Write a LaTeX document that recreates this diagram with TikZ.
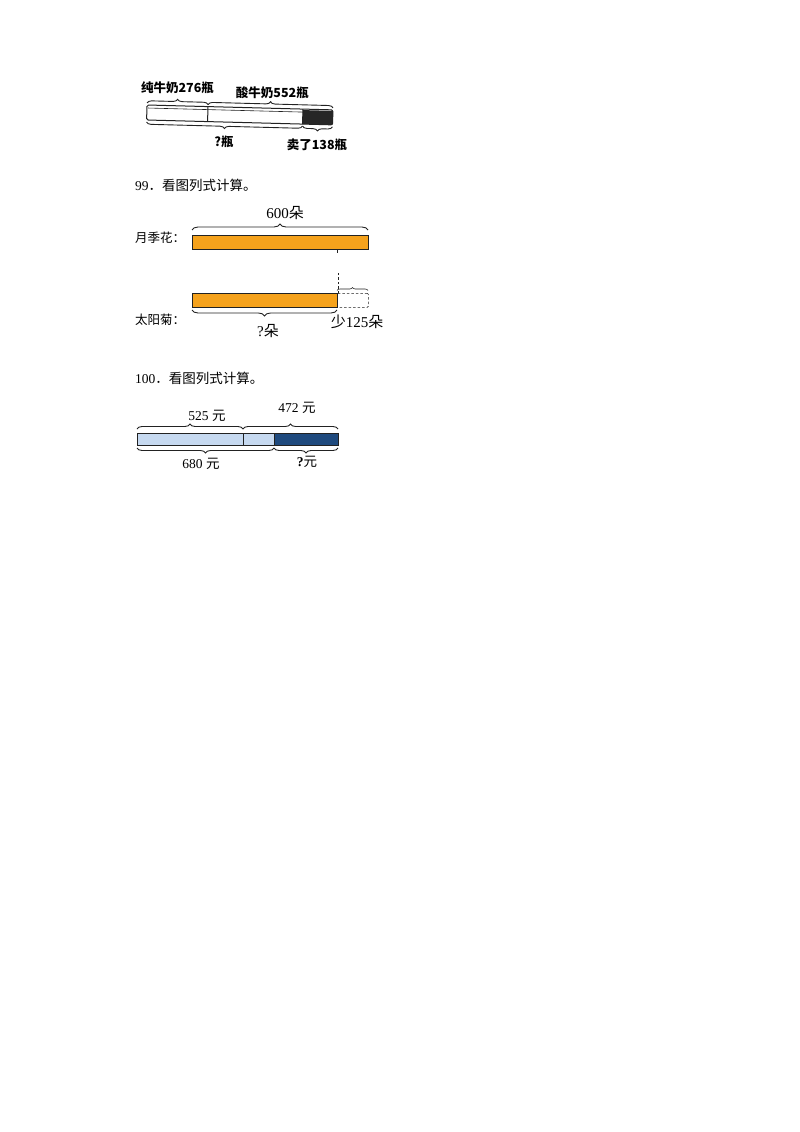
\documentclass[tikz,border=0pt]{standalone}
\usepackage{fontspec}
\setmainfont{Liberation Serif}
\newfontfamily\cjk{Noto Sans CJK SC}
\usetikzlibrary{decorations.pathreplacing}
\definecolor{orangebar}{HTML}{F5A21C}
\definecolor{lightbluebar}{HTML}{C6D9F0}
\definecolor{darkbluebar}{HTML}{1F4A7E}
\definecolor{inkline}{HTML}{222222}
\begin{document}
\begin{tikzpicture}[x=1pt,y=-1pt,
  bracedeco/.style={decorate,decoration={brace,amplitude=#1},line width=0.9pt,draw=inkline},
  lbl/.style={inner sep=0pt},
  titletext/.style={inner sep=0pt,anchor=west,font=\fontsize{13.5}{15}\selectfont},
  milktext/.style={inner sep=0pt,font=\fontsize{12.5}{14}\selectfont\cjk\bfseries},
  flowertext/.style={inner sep=0pt,font=\fontsize{15}{17}\selectfont},
  pricetext/.style={inner sep=0pt,font=\fontsize{13.5}{15}\selectfont},
  barbox/.style={draw=inkline,line width=1pt},
  dashbox/.style={draw=inkline,line width=0.7pt,dashed,dash pattern=on 2.5pt off 2pt}]
\useasboundingbox (0,0) rectangle (800,1132);

% ---------- milk diagram ----------
\begin{scope}[rotate around={-1.5:(147,105)}]
  \draw[barbox,fill=white,rounded corners=1.5pt] (147,105) rectangle (333,120);
  \fill[black!85] (303,106) rectangle (333,120);
  \draw[barbox] (303,105) -- (303,120);
  \draw[inkline,line width=0.6pt] (148,108) -- (303,108);
  \draw[barbox] (208,105) -- (208,120);
  \draw[bracedeco=4.5] (147,103) -- (208,103);
  \draw[bracedeco=4.5] (208,103) -- (333,103);
  \draw[bracedeco=4.5] (303,122) -- (147,122);
  \draw[bracedeco=4.5] (333,122) -- (303,122);
  \node[milktext] (milkA) at (177,87) {纯牛奶276瓶};
  \node[milktext] (milkB) at (272,89) {酸牛奶552瓶};
  \node[milktext] (milkQ) at (225,139.5) {?瓶};
  \node[milktext] (milkS) at (318,140.5) {卖了138瓶};
\end{scope}

% ---------- 99 ----------
\node[titletext] (t99) at (135,185) {99{\cjk ．看图列式计算。}};
\node[inner sep=0pt,anchor=west,font=\fontsize{12.5}{14}\selectfont\cjk] (yue) at (135,238) {月季花：};
\node[inner sep=0pt,anchor=west,font=\fontsize{12.5}{14}\selectfont\cjk] (tai) at (135,320) {太阳菊：};
\node[barbox,fill=orangebar,minimum width=176pt,minimum height=14pt,inner sep=0pt,anchor=north west] (bar1) at (192,235) {};
\draw[inkline,line width=0.6pt] (337,249) -- (337,253);
\draw[bracedeco=6] (192,230) -- (368,230);
\node[flowertext] (n600) at (285,213) {600{\cjk 朵}};
\node[barbox,fill=orangebar,minimum width=145pt,minimum height=14pt,inner sep=0pt,anchor=north west] (bar2) at (192,293) {};
\node[dashbox,minimum width=31pt,minimum height=14pt,inner sep=0pt,anchor=north west,rounded corners=1pt] (dbox) at (337,293) {};
\draw[dashbox] (bar2.north east) -- ++(0,-20);
\draw[bracedeco=3,line width=0.6pt] (dbox.north west) ++(0,-2.5) -- ++(31,0);
\draw[bracedeco=6] (337,310) -- (192,310);
\node[flowertext] (nq) at (268,331) {?{\cjk 朵}};
\node[flowertext] (n125) at (357,322) {{\cjk 少}125{\cjk 朵}};

% ---------- 100 ----------
\node[titletext] (t100) at (135,378) {100{\cjk ．看图列式计算。}};
\node[barbox,fill=lightbluebar,minimum width=137pt,minimum height=12pt,inner sep=0pt,anchor=north west] (lb) at (137,433) {};
\node[barbox,fill=darkbluebar,minimum width=64pt,minimum height=12pt,inner sep=0pt,anchor=north west] (db) at (274,433) {};
\draw[barbox] (243,433) -- (243,445);
\draw[bracedeco=5] (137,429) -- (243,429);
\draw[bracedeco=5] (243,429) -- (338,429);
\draw[bracedeco=5] (274,448) -- (137,448);
\draw[bracedeco=5] (338,448) -- (274,448);
\node[pricetext] (p525) at (207,416) {525 {\cjk 元}};
\node[pricetext] (p472) at (297,408) {472 {\cjk 元}};
\node[pricetext] (p680) at (201,464) {680 {\cjk 元}};
\node[pricetext] (pq) at (307,462) {\textbf{?}{\cjk 元}};
\end{tikzpicture}
\end{document}
